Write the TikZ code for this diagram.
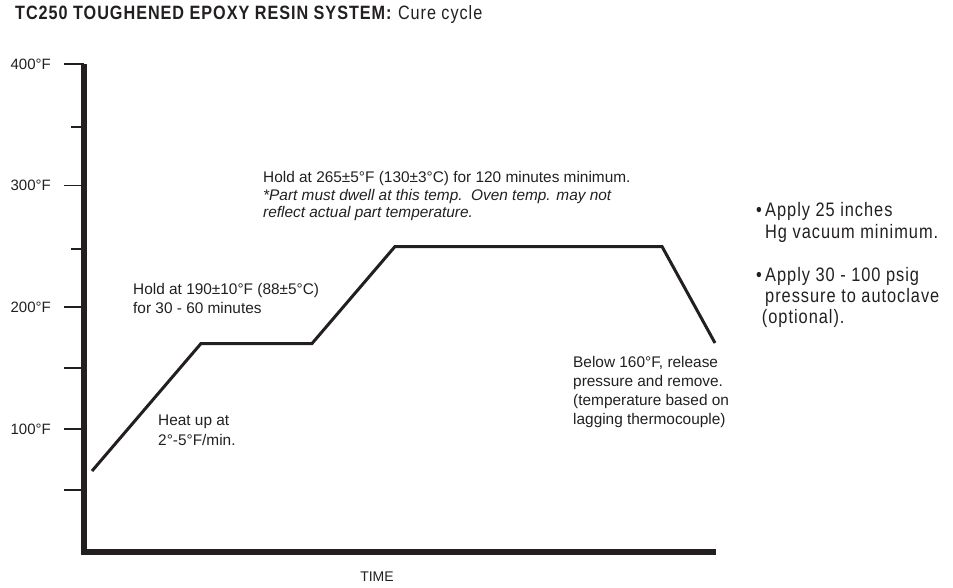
\documentclass[tikz,border=0pt]{standalone}
\usepackage{fontspec}
\setmainfont{Liberation Sans}
\newfontfamily\condfont[FakeStretch=0.84,LetterSpace=5]{Liberation Sans}
\usetikzlibrary{positioning}
\newcommand*{\xAxis}{84}
\newcommand*{\xEnd}{716}
\newcommand*{\yTop}{64}
\newcommand*{\yAxis}{552}
\definecolor{ink}{RGB}{35,31,32}
\tikzset{
  axisline/.style={% the two thick axes
    draw=ink,
    line width=6.5pt,
    line join=miter
  },
  tickmark/.style={draw=ink, line width=1.5pt},
  cureline/.style={% the temperature profile
    draw=ink,
    line width=3pt,
    line join=miter
  },
  templabel/.style={anchor=east, text=ink, inner sep=0pt,
    font=\fontsize{15}{18}\selectfont},
  % multi-line nodes sit on the baseline of their last line
  note/.style={anchor=base west, align=left, text=ink, inner sep=0pt,
    font=\fontsize{15.4}{18.5}\selectfont},
  sidenote/.style={anchor=base west, align=left, text=ink, inner sep=0pt,
    font=\condfont\fontsize{19.5}{21}\selectfont}
}

\begin{document}
\begin{tikzpicture}[x=1pt,y=-1pt]
    \useasboundingbox (0,0) rectangle (953,588);
    % title
    \node[anchor=base west, inner sep=0pt, text=ink,
      font=\condfont\fontsize{19.3}{21}\selectfont] (title) at (15,20)
      {\textbf{TC250 TOUGHENED EPOXY RESIN SYSTEM:} Cure cycle};
    % axes
    \draw [axisline] (\xAxis,\yTop) -- (\xAxis,\yAxis) -- (\xEnd,\yAxis);
    \foreach \y in {64,185.5,307,429,368,490} {
        \draw [tickmark] (64,\y) -- (\xAxis,\y);
    }
    \foreach \y in {127,249} {
        \draw [tickmark] (71,\y) -- (\xAxis,\y);
    }
    \foreach \t/\y in {400/64,300/185.5,200/307,100/429} {
        \node[templabel] (t\t) at (51,\y) {\t°F};
    }
    \node[text=ink, font=\fontsize{14}{16}\selectfont] (time) at (377,577) {TIME};
    % cure profile
    \coordinate (c0) at (92,471);
    \coordinate (c1) at (201,343.5);
    \coordinate (c2) at (312,343.5);
    \coordinate (c3) at (395,246.5);
    \coordinate (c4) at (662,246.5);
    \coordinate (c5) at (715,343);
    \draw [cureline] (c0) -- (c1) -- (c2) -- (c3) -- (c4) -- (c5);
    % notes
    \node[note, font=\fontsize{15.4}{17.5}\selectfont] (hold265) at (263,218)
      {Hold at 265±5°F (130±3°C) for 120 minutes minimum.\\
       \textit{*Part must dwell at this temp.\ \ Oven temp. may not}\\
       \textit{reflect actual part temperature.}};
    \node[note] (hold190) at (133,313)
      {Hold at 190±10°F (88±5°C)\\for 30 - 60 minutes};
    \node[note, font=\fontsize{15.4}{20}\selectfont] (heatup) at (158,445)
      {Heat up at\\2°-5°F/min.};
    \node[note, font=\fontsize{15.4}{19}\selectfont] (release) at (573,424)
      {Below 160°F, release\\pressure and remove.\\(temperature based on\\lagging thermocouple)};
    \node[sidenote] (vacuum) at (756,238)
      {•\,Apply 25 inches\\\phantom{•\,}Hg vacuum minimum.};
    \node[sidenote] (psig) at (756,323)
      {•\,Apply 30 - 100 psig\\\phantom{•\,}pressure to autoclave\\\phantom{•}(optional).};
\end{tikzpicture}
\end{document}
